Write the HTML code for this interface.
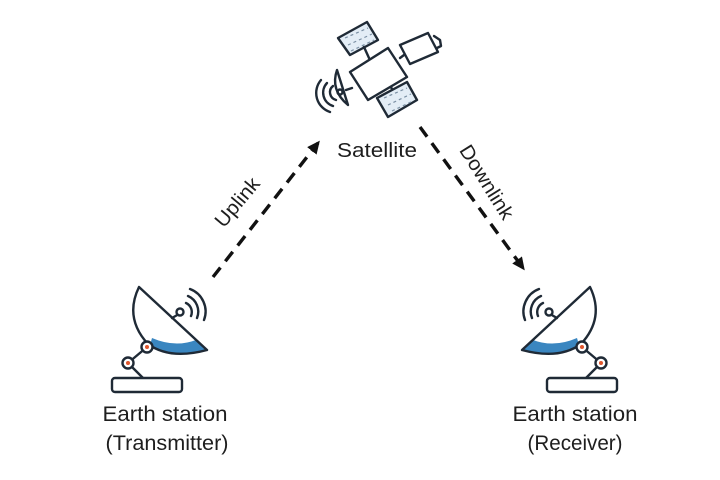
<!DOCTYPE html>
<html><head><style>
html,body{margin:0;padding:0;background:#fff;width:720px;height:480px;overflow:hidden}
svg{display:block}
text{font-family:"Liberation Sans",sans-serif;fill:#1e1e1e;font-size:21px}
</style></head><body>
<svg width="720" height="480" viewBox="0 0 720 480">
<defs>
<marker id="ah" markerWidth="14" markerHeight="14" refX="10" refY="6" orient="auto" markerUnits="userSpaceOnUse"><path d="M0,0 L13,6 L0,12 Z" fill="#111"/></marker>
<g id="dish" fill="none" stroke="#1f2a36" stroke-width="2.4" stroke-linecap="round" stroke-linejoin="round">
  <path d="M150,345 Q170,358 207,350 L196,340 Q175,348 152,338 Z" fill="#3a86c0" stroke="none"/>
  <path d="M139,287 L207,350 Q170,360 148,344 Q124,318 139,287 Z"/>
  <line x1="172" y1="318" x2="179" y2="314"/>
  <circle cx="180" cy="312" r="3.5" fill="#fff"/>
  <path d="M186,303 A10,10 0 0 1 191,316"/>
  <path d="M188,296 A17,17 0 0 1 197,318"/>
  <path d="M190,289 A24,24 0 0 1 204,320"/>
  <line x1="128" y1="363" x2="147" y2="347"/>
  <line x1="128" y1="363" x2="143" y2="378"/>
  <circle cx="147" cy="347" r="5.5" fill="#fff"/>
  <circle cx="128" cy="363" r="5.5" fill="#fff"/>
  <rect x="112" y="378" width="70" height="14" rx="3" fill="#fff"/>
</g>
</defs>
<use href="#dish"/>
<g fill="#e0572e"><circle cx="147" cy="347" r="2"/><circle cx="128" cy="363" r="2"/></g>
<g transform="translate(729,0) scale(-1,1)"><use href="#dish"/><g fill="#e0572e"><circle cx="147" cy="347" r="2"/><circle cx="128" cy="363" r="2"/></g></g>
<!-- satellite -->
<g fill="none" stroke="#1f2a36" stroke-width="2.4" stroke-linejoin="round" stroke-linecap="round">
  <polygon points="338,38 367,22 378,40 350,55" fill="#e3edf6"/>
  <polygon points="377,98 407,82 417,100 388,117" fill="#e3edf6"/>
  <line x1="364" y1="47" x2="369" y2="58"/>
  <line x1="392" y1="89" x2="387" y2="80"/>
  <polygon points="350,72 388,48 407,77 368,100" fill="#fff"/>
  <polygon points="400,45 428,33 438,52 410,64" fill="#fff"/>
  <line x1="400" y1="58" x2="404" y2="55"/>
  <path d="M434,36 L440,40 L441,46 L437,48"/>
  <path d="M337,70 Q330,90 348,105 Z" fill="#fff"/>
  <line x1="346" y1="90" x2="352" y2="88"/>
  <circle cx="340" cy="92" r="2.5"/>
  <path d="M333,86 A8,8 0 0 0 336,100"/>
  <path d="M327,83 A14,14 0 0 0 333,106"/>
  <path d="M321,80 A20,20 0 0 0 330,112"/>
</g>
<g stroke="#7a8fa3" stroke-width="1.2" stroke-dasharray="3,3">
  <line x1="345" y1="38" x2="368" y2="28"/><line x1="348" y1="45" x2="372" y2="34"/><line x1="351" y1="51" x2="374" y2="40"/>
  <line x1="384" y1="98" x2="407" y2="88"/><line x1="388" y1="105" x2="411" y2="94"/><line x1="392" y1="111" x2="413" y2="101"/>
</g>
<!-- arrows -->
<line x1="213" y1="277" x2="318" y2="143" stroke="#111" stroke-width="3.4" stroke-dasharray="12,8" marker-end="url(#ah)"/>
<line x1="420" y1="127" x2="523" y2="268" stroke="#111" stroke-width="3.4" stroke-dasharray="12,8" marker-end="url(#ah)"/>
<text x="237" y="209" text-anchor="middle" textLength="58" lengthAdjust="spacingAndGlyphs" style="font-size:20px" transform="rotate(-50 237 202)">Uplink</text>
<text x="487" y="189" text-anchor="middle" textLength="84" lengthAdjust="spacingAndGlyphs" style="font-size:20px" transform="rotate(58 487 182)">Downlink</text>
<text x="377" y="157" text-anchor="middle" textLength="80" lengthAdjust="spacingAndGlyphs" style="font-size:20px">Satellite</text>
<text x="165" y="421" text-anchor="middle" textLength="125" lengthAdjust="spacingAndGlyphs">Earth station</text>
<text x="167" y="450" text-anchor="middle" textLength="123" lengthAdjust="spacingAndGlyphs">(Transmitter)</text>
<text x="575" y="421" text-anchor="middle" textLength="125" lengthAdjust="spacingAndGlyphs">Earth station</text>
<text x="575" y="450" text-anchor="middle" textLength="95" lengthAdjust="spacingAndGlyphs">(Receiver)</text>
</svg>
</body></html>
